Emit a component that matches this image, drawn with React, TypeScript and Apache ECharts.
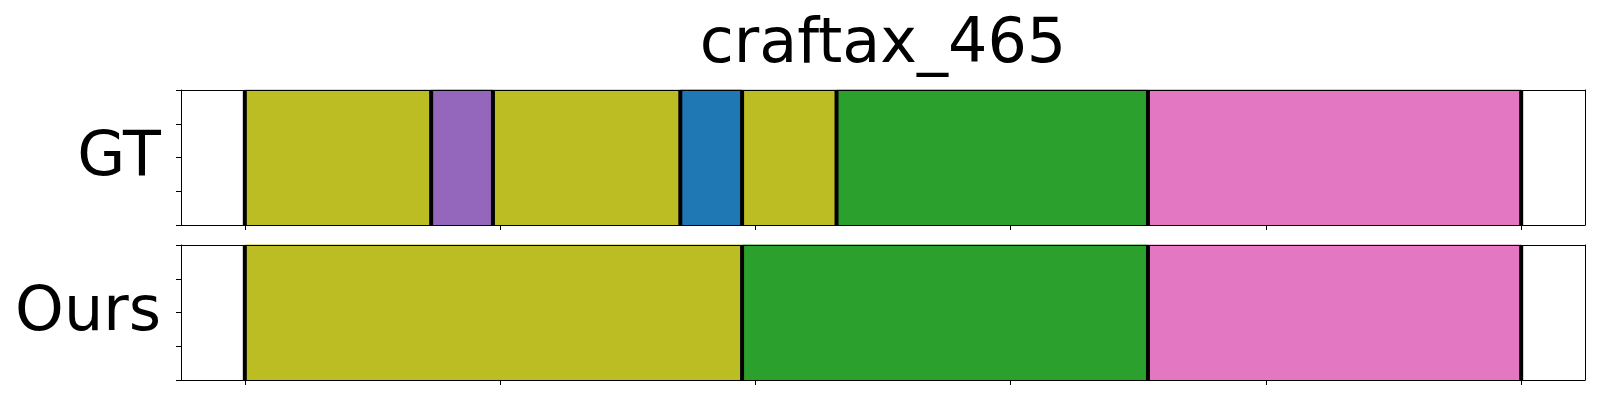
import React, { useEffect, useRef } from "react";
import * as echarts from "echarts";

// ---- data ----
const titleText = "craftax_465";
const rowLabels = ["GT", "Ours"];
// segment boundaries (frame index) for each row
const gtBounds = [0, 36.5, 48.6, 85.3, 97.4, 115.9, 176.9, 250];
const gtClasses = ["olive", "purple", "olive", "blue", "olive", "green", "pink"];
const oursBounds = [0, 97.4, 176.9, 250];
const oursClasses = ["olive", "green", "pink"];
const xTicks = [0, 50, 100, 150, 200, 250];
const xMin = -12.5;
const xMax = 262.5;

const classColors: Record<string, string> = {
  olive: "#bcbd22",
  purple: "#9467bd",
  blue: "#1f77b4",
  green: "#2ca02c",
  pink: "#e377c2",
};

const FONT = "DejaVu Sans";

function buildSegments(bounds: number[], classes: string[]) {
  return classes.map((c, i) => ({ value: [bounds[i], bounds[i + 1]], cls: c }));
}

export default function App() {
  const ref = useRef<HTMLDivElement>(null);
  useEffect(() => {
    if (!ref.current) return;
    const chart = echarts.init(ref.current, undefined, { renderer: "svg" });

    const grids = [
      { left: 181, top: 90, width: 1404, height: 135 },
      { left: 181, top: 245, width: 1404, height: 135 },
    ];

    const xAxes: any[] = [];
    const yAxes: any[] = [];
    grids.forEach((_, gi) => {
      xAxes.push({
        type: "value",
        gridIndex: gi,
        position: "bottom",
        min: xMin,
        max: xMax,
        z: 5,
        axisLine: { show: true, onZero: false, lineStyle: { color: "#000", width: 1 } },
        axisTick: { show: true, customValues: xTicks, length: 5, lineStyle: { color: "#000", width: 1 } },
        axisLabel: { show: false },
        splitLine: { show: false },
      });
      xAxes.push({
        type: "value",
        gridIndex: gi,
        position: "top",
        min: xMin,
        max: xMax,
        z: 5,
        axisLine: { show: true, onZero: false, lineStyle: { color: "#000", width: 1 } },
        axisTick: { show: false },
        axisLabel: { show: false },
        splitLine: { show: false },
      });
      yAxes.push({
        type: "value",
        gridIndex: gi,
        position: "left",
        min: 0,
        max: 1,
        interval: 0.25,
        z: 5,
        axisLine: { show: true, onZero: false, lineStyle: { color: "#000", width: 1 } },
        axisTick: { show: true, length: 5, lineStyle: { color: "#000", width: 1 } },
        axisLabel: { show: false },
        splitLine: { show: false },
      });
      yAxes.push({
        type: "value",
        gridIndex: gi,
        position: "right",
        min: 0,
        max: 1,
        interval: 0.25,
        z: 5,
        axisLine: { show: true, onZero: false, lineStyle: { color: "#000", width: 1 } },
        axisTick: { show: false },
        axisLabel: { show: false },
        splitLine: { show: false },
      });
    });

    const rows = [
      { bounds: gtBounds, classes: gtClasses },
      { bounds: oursBounds, classes: oursClasses },
    ];

    const series: any[] = [];
    rows.forEach((row, gi) => {
      const segs = buildSegments(row.bounds, row.classes);
      series.push({
        type: "custom",
        xAxisIndex: gi * 2,
        yAxisIndex: gi * 2,
        z: 2,
        data: segs.map((s) => s.value),
        renderItem: (params: any, api: any) => {
          const s = api.value(0);
          const e = api.value(1);
          const p0 = api.coord([s, 1]);
          const p1 = api.coord([e, 0]);
          const color = classColors[segs[params.dataIndex].cls];
          return {
            type: "rect",
            shape: { x: p0[0], y: p0[1], width: p1[0] - p0[0], height: p1[1] - p0[1] },
            style: { fill: color, stroke: color, lineWidth: 1 },
          };
        },
      });
      series.push({
        type: "custom",
        xAxisIndex: gi * 2,
        yAxisIndex: gi * 2,
        z: 3,
        data: row.bounds.map((b) => [b]),
        renderItem: (params: any, api: any) => {
          const b = api.value(0);
          const top = api.coord([b, 1]);
          const bot = api.coord([b, 0]);
          return {
            type: "line",
            shape: { x1: top[0], y1: top[1], x2: bot[0], y2: bot[1] },
            style: { stroke: "#000", lineWidth: 4 },
          };
        },
      });
    });

    chart.setOption({
      animation: false,
      backgroundColor: "#fff",
      grid: grids,
      xAxis: xAxes,
      yAxis: yAxes,
      series,
      graphic: [
        {
          type: "text",
          x: 883,
          y: 40.5,
          style: {
            text: titleText,
            fontFamily: FONT,
            fontSize: 62,
            fill: "#000",
            align: "center",
            verticalAlign: "middle",
          },
        },
        ...rowLabels.map((t, i) => ({
          type: "text",
          x: 161,
          y: i === 0 ? 153.5 : 308.7,
          style: {
            text: t,
            fontFamily: FONT,
            fontSize: 62,
            fill: "#000",
            align: "right",
            verticalAlign: "middle",
          },
        })),
      ],
    });

    return () => chart.dispose();
  }, []);

  return (
    <div
      ref={ref}
      style={{ position: "fixed", left: 0, top: 0, width: 1600, height: 400 }}
    />
  );
}
